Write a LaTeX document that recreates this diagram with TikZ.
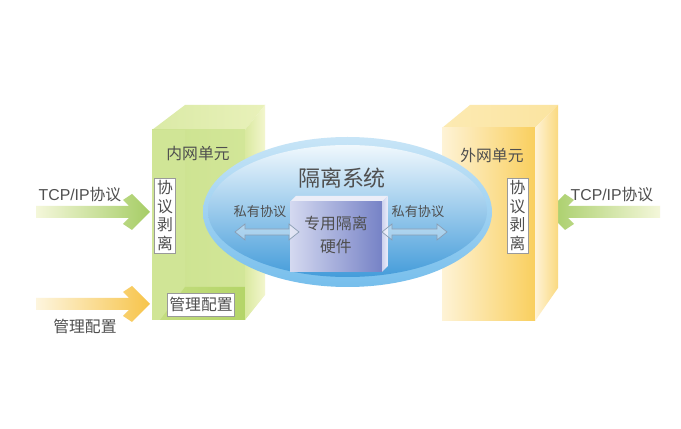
\documentclass[tikz,border=0pt]{standalone}
\usepackage{fontspec}
\setmainfont{Noto Sans CJK SC}
\newfontfamily\latinfont{Liberation Sans}
\definecolor{txtgray}{HTML}{4F4F4F}
\definecolor{boxline}{HTML}{9A9A9A}
\definecolor{arrowline}{HTML}{8A9DB2}
\definecolor{palegreen}{RGB}{244,247,218}
\definecolor{arrowgreen}{RGB}{166,205,102}
\definecolor{paleorange}{RGB}{253,245,222}
\definecolor{arroworange}{RGB}{247,196,74}
\definecolor{gtopA}{RGB}{218,234,166}
\definecolor{gtopB}{RGB}{233,241,186}
\definecolor{gfrontA}{RGB}{204,226,143}
\definecolor{gfrontB}{RGB}{210,230,152}
\definecolor{gstrip}{RGB}{208,229,150}
\definecolor{gfloorA}{RGB}{196,221,128}
\definecolor{gfloorB}{RGB}{180,213,104}
\definecolor{gsideA}{RGB}{218,233,160}
\definecolor{gsideB}{RGB}{243,246,206}
\definecolor{ytopA}{RGB}{252,234,178}
\definecolor{ytopB}{RGB}{251,228,160}
\definecolor{yfrontA}{RGB}{254,243,214}
\definecolor{yfrontB}{RGB}{249,207,94}
\definecolor{ysideA}{RGB}{255,243,214}
\definecolor{ysideB}{RGB}{250,217,127}
\definecolor{rimtop}{RGB}{200,229,247}
\definecolor{rimbot}{RGB}{118,190,236}
\definecolor{elltop}{RGB}{240,248,253}
\definecolor{ellmid}{RGB}{156,207,241}
\definecolor{ellbot}{RGB}{68,156,218}
\definecolor{hwtop}{RGB}{236,238,248}
\definecolor{hwfrontA}{RGB}{212,217,240}
\definecolor{hwfrontB}{RGB}{118,130,198}
\definecolor{hwsideA}{RGB}{205,210,238}
\definecolor{hwsideB}{RGB}{236,238,250}
\tikzset{lbl/.style={text=txtgray, inner sep=1pt, font=\fontsize{9}{11}\selectfont},
 small/.style={lbl, font=\fontsize{7.5}{9}\selectfont},
 stripbox/.style={draw=boxline, fill=white, line width=0.4pt, inner sep=1pt,
   text=txtgray, align=center, font=\fontsize{9}{10.6}\selectfont},
 dblarrow/.style={draw=arrowline, line width=0.4pt, fill=white, fill opacity=0.35},
 }
% fat arrow with a chevron head: tail x, tip x, y, shading
\newcommand{\chevarrow}[4]{%
  \pgfmathsetmacro{\dd}{sign(#2-#1)}
  \shade[#4] (#1,{#3-6}) -- ({#2-\dd*21},{#3-6}) -- ({#2-\dd*27},{#3-12})
    -- ({#2-\dd*18},{#3-18}) -- (#2,#3) -- ({#2-\dd*18},{#3+18})
    -- ({#2-\dd*27},{#3+12}) -- ({#2-\dd*21},{#3+6}) -- (#1,{#3+6}) -- cycle;}
% hollow double arrow: left x, right x, y
\newcommand{\hollowarrow}[3]{%
  \draw[dblarrow] (#1,#3) -- ({#1+10},{#3-8}) -- ({#1+10},{#3-3}) -- ({#2-10},{#3-3})
    -- ({#2-10},{#3-8}) -- (#2,#3) -- ({#2-10},{#3+8}) -- ({#2-10},{#3+3})
    -- ({#1+10},{#3+3}) -- ({#1+10},{#3+8}) -- cycle;}

\begin{document}
\begin{tikzpicture}[x=0.02cm, y=-0.02cm]
    \useasboundingbox[fill=white] (0,0) rectangle (681,429);
    % incoming arrows
    \chevarrow{36}{150}{212}{left color=palegreen, right color=arrowgreen}
    \chevarrow{36}{150}{304}{left color=paleorange, right color=arroworange}
    \chevarrow{660}{547}{212}{left color=arrowgreen, right color=palegreen}
    % inner unit, green block
    \shade[left color=gtopA, right color=gtopB] (152,130) -- (185,105) -- (265,105) -- (245,130) -- cycle;
    \shade[left color=gfrontA, right color=gfrontB] (152,130) rectangle (245,320);
    \fill[gstrip] (152,130) rectangle (185,320);
    \shade[left color=gfloorA, right color=gfloorB] (185,287) -- (245,287) -- (245,320) -- (160,320) -- cycle;
    \shade[left color=gsideA, right color=gsideB] (245,130) -- (265,105) -- (265,295) -- (245,320) -- cycle;
    % outer unit, yellow block
    \shade[left color=ytopA, right color=ytopB] (442,128) -- (470,105) -- (558,105) -- (535,128) -- cycle;
    \shade[left color=yfrontA, right color=yfrontB] (442,128) rectangle (535,321);
    \shade[left color=ysideA, right color=ysideB] (535,128) -- (558,105) -- (558,288) -- (535,321) -- cycle;
    % isolation system
    \shade[top color=rimtop, bottom color=rimbot] (347.5,212) ellipse [x radius=144.5, y radius=75];
    \shade[top color=elltop, middle color=ellmid, bottom color=ellbot] (347.5,211) ellipse [x radius=139.5, y radius=66];
    % dedicated hardware
    \fill[hwtop] (290,202) -- (296,196) -- (388,196) -- (382,202) -- cycle;
    \shade[left color=hwfrontA, right color=hwfrontB] (290,202) rectangle (382,272);
    \shade[left color=hwsideA, right color=hwsideB] (382,202) -- (388,196) -- (388,266) -- (382,272) -- cycle;
    \hollowarrow{235}{299}{232}
    \hollowarrow{382}{447}{232}
    % texts
    \node[lbl, font=\latinfont\fontsize{9}{11}\selectfont] (tcpL) at (80,195) {TCP/IP\fontspec{Noto Sans CJK SC}协议};
    \node[lbl] (mgmtL) at (85,326) {管理配置};
    \node[lbl] (innerunit) at (198,154) {内网单元};
    \node[stripbox, minimum width=0.42cm, minimum height=1.5cm] (stripL) at (165,215.5) {协\\议\\剥\\离};
    \node[stripbox, minimum width=1.32cm, minimum height=0.46cm] (mgmtbox) at (201,304.5) {管理配置};
    \node[lbl, font=\fontsize{12.5}{14}\selectfont] (system) at (342,178) {隔离系统};
    \node[lbl, align=center, font=\fontsize{9}{13.6}\selectfont] (hardware) at (336,235) {专用隔离\\硬件};
    \node[small] (privL) at (260,212) {私有协议};
    \node[small] (privR) at (418,212) {私有协议};
    \node[lbl] (outerunit) at (492,155) {外网单元};
    \node[stripbox, minimum width=0.42cm, minimum height=1.5cm] (stripR) at (517.5,215.5) {协\\议\\剥\\离};
    \node[lbl, font=\latinfont\fontsize{9}{11}\selectfont] (tcpR) at (612,195) {TCP/IP\fontspec{Noto Sans CJK SC}协议};
\end{tikzpicture}
\end{document}
